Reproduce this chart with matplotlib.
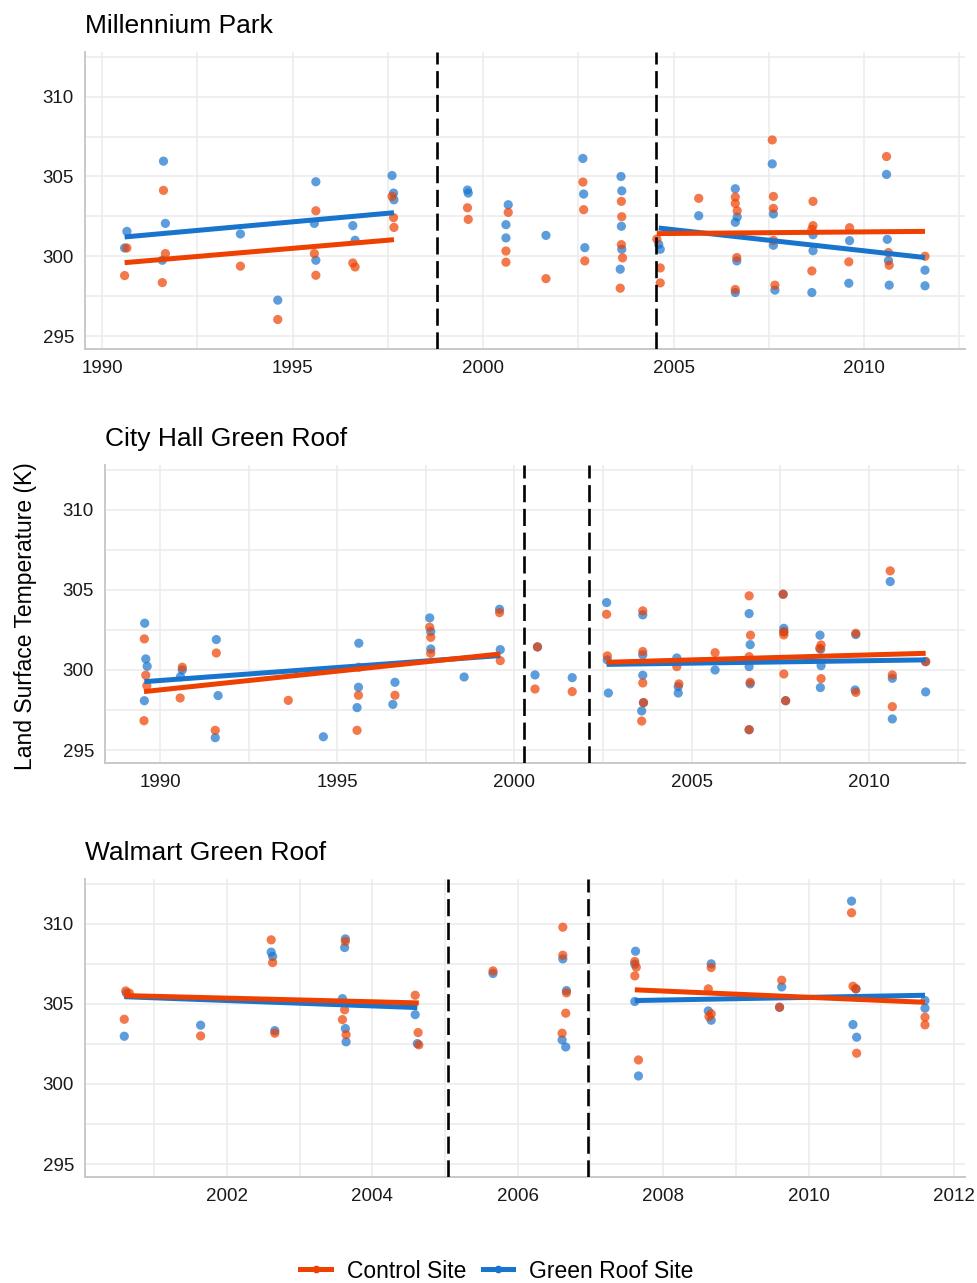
import numpy as np
import matplotlib.pyplot as plt
from matplotlib.lines import Line2D
from matplotlib.ticker import MultipleLocator

plt.rcParams['font.family'] = ['Liberation Sans', 'DejaVu Sans']

# Couleurs des deux sites
col_ctrl = '#EE4000'
col_green = '#1874CD'

# --- Millennium Park ---
mp_x_green = [1990.65, 1990.59, 1991.61, 1991.66, 1991.58, 1993.63, 1994.61, 1995.61, 1995.57, 1995.61,
              1996.58, 1996.64, 1997.61, 1997.65, 1997.66, 1999.59, 1999.61, 2000.66, 2000.60, 2000.60,
              2001.65, 2002.62, 2002.64, 2002.67, 2003.62, 2003.64, 2003.63, 2003.64, 2003.60, 2004.61,
              2004.65, 2005.66, 2006.62, 2006.67, 2006.62, 2006.66, 2006.62, 2007.59, 2007.62, 2007.62,
              2007.66, 2008.66, 2008.66, 2008.63, 2009.62, 2009.60, 2010.59, 2010.61, 2010.64, 2010.66,
              2011.60, 2011.60]
mp_green = [301.56, 300.52, 305.96, 302.06, 299.75, 301.40, 297.25, 304.67, 302.06, 299.75,
            301.92, 301.00, 305.06, 303.96, 303.54, 304.15, 303.96, 303.23, 301.98, 301.15,
            301.31, 306.13, 303.90, 300.54, 305.00, 304.10, 301.88, 300.44, 299.19, 300.75,
            300.44, 302.54, 304.23, 302.46, 302.13, 299.71, 297.73, 305.79, 302.65, 300.69,
            297.88, 301.35, 300.35, 297.73, 300.98, 298.31, 305.13, 301.06, 299.73, 298.19,
            299.13, 298.15]
mp_x_ctrl = [1990.65, 1990.59, 1991.61, 1991.66, 1991.58, 1993.63, 1994.61, 1995.61, 1995.57, 1995.61,
             1996.58, 1996.64, 1997.61, 1997.65, 1997.66, 1999.59, 1999.61, 2000.66, 2000.60, 2000.60,
             2001.65, 2002.62, 2002.64, 2002.67, 2003.63, 2003.64, 2003.63, 2003.66, 2003.60, 2004.56,
             2004.65, 2004.65, 2005.66, 2006.62, 2006.62, 2006.67, 2006.66, 2006.62, 2007.59, 2007.62,
             2007.62, 2007.62, 2007.66, 2008.66, 2008.66, 2008.63, 2008.63, 2009.62, 2009.60, 2010.59,
             2010.64, 2010.66, 2011.60]
mp_ctrl = [300.52, 298.79, 304.13, 300.17, 298.35, 299.38, 296.04, 302.85, 300.17, 298.81,
           299.58, 299.33, 303.75, 302.42, 301.81, 303.04, 302.31, 302.75, 300.33, 299.63,
           298.60, 304.65, 302.92, 299.71, 303.44, 302.48, 300.73, 299.90, 298.00, 301.08,
           299.27, 298.33, 303.63, 303.71, 303.31, 302.85, 299.92, 297.92, 307.29, 303.75,
           303.00, 301.00, 298.19, 303.44, 301.92, 301.69, 299.08, 301.79, 299.65, 306.25,
           300.23, 299.44, 300.00]
mp_build = [1998.78, 2004.53]
# tendances (début, fin) avant / après travaux
mp_trend_ctrl = [(299.60, 301.04), (301.42, 301.56)]
mp_trend_green = [(301.21, 302.73), (301.77, 299.92)]

# --- City Hall Green Roof ---
ch_x_green = [1989.57, 1989.60, 1989.64, 1989.56, 1990.58, 1990.63, 1991.59, 1991.64, 1991.56, 1994.61,
              1995.61, 1995.60, 1995.56, 1996.63, 1996.57, 1997.61, 1997.64, 1997.64, 1998.58, 1999.58,
              1999.60, 2000.58, 2000.65, 2001.63, 2002.60, 2002.62, 2002.65, 2003.62, 2003.62, 2003.62,
              2003.64, 2003.59, 2004.58, 2004.62, 2004.62, 2005.66, 2006.62, 2006.65, 2006.62, 2006.65,
              2006.62, 2007.58, 2007.60, 2007.60, 2007.65, 2008.62, 2008.64, 2008.65, 2008.63, 2009.63,
              2009.61, 2010.60, 2010.66, 2010.66, 2011.60, 2011.60]
ch_green = [302.92, 300.69, 300.23, 298.08, 299.58, 300.00, 301.90, 298.40, 295.77, 295.83,
            301.67, 298.92, 297.65, 299.23, 297.85, 303.25, 302.40, 301.31, 299.56, 303.79,
            301.27, 299.69, 301.44, 299.52, 304.21, 300.63, 298.56, 303.44, 300.94, 299.67,
            297.96, 297.44, 300.75, 298.96, 298.56, 300.00, 303.52, 301.58, 300.21, 299.13,
            296.27, 304.73, 302.60, 302.38, 298.08, 302.17, 301.29, 300.27, 298.90, 302.21,
            298.75, 305.52, 299.48, 296.94, 300.52, 298.63]
ch_x_ctrl = [1989.56, 1989.60, 1989.63, 1989.55, 1990.63, 1990.57, 1991.59, 1991.56, 1993.62, 1995.61,
             1995.60, 1995.56, 1996.63, 1997.61, 1997.64, 1997.64, 1999.58, 1999.60, 2000.65, 2000.58,
             2001.63, 2002.60, 2002.62, 2003.62, 2003.62, 2003.62, 2003.64, 2003.59, 2004.58, 2004.64,
             2005.66, 2006.62, 2006.66, 2006.62, 2006.65, 2006.62, 2007.58, 2007.60, 2007.60, 2007.60,
             2007.65, 2008.61, 2008.65, 2008.65, 2009.63, 2009.63, 2010.60, 2010.66, 2010.66, 2011.60]
ch_ctrl = [301.94, 299.67, 299.02, 296.83, 300.17, 298.25, 301.06, 296.23, 298.10, 300.17,
           298.42, 296.23, 298.42, 302.67, 302.04, 301.04, 303.58, 300.58, 301.44, 298.81,
           298.65, 303.48, 300.88, 303.69, 301.15, 299.19, 297.96, 296.81, 300.21, 299.13,
           301.08, 304.63, 302.17, 300.83, 299.23, 296.27, 304.73, 302.38, 302.19, 299.75,
           298.08, 301.35, 301.56, 299.46, 302.29, 298.60, 306.19, 299.69, 297.71, 300.52]
ch_build = [2000.28, 2002.11]
ch_trend_ctrl = [(298.65, 301.00), (300.48, 301.04)]
ch_trend_green = [(299.27, 300.90), (300.35, 300.63)]

# --- Walmart Green Roof ---
wm_x_green = [2000.62, 2000.59, 2001.64, 2002.61, 2002.63, 2002.66, 2003.63, 2003.62, 2003.59, 2003.63,
              2003.64, 2004.59, 2004.62, 2005.66, 2006.62, 2006.67, 2006.61, 2006.66, 2007.62, 2007.61,
              2007.61, 2007.66, 2008.66, 2008.62, 2008.66, 2009.63, 2009.60, 2010.59, 2010.65, 2010.61,
              2010.66, 2011.60, 2011.60]
wm_green = [305.67, 302.98, 303.67, 308.23, 307.96, 303.33, 309.06, 308.52, 305.33, 303.46,
            302.63, 304.33, 302.52, 306.90, 307.81, 305.83, 302.75, 302.31, 308.29, 307.48,
            305.15, 300.50, 307.50, 304.56, 303.98, 306.06, 304.79, 311.42, 305.94, 303.71,
            302.92, 305.21, 304.73]
wm_x_ctrl = [2000.61, 2000.66, 2000.59, 2001.64, 2002.61, 2002.63, 2002.66, 2003.63, 2003.62, 2003.59,
             2003.64, 2004.59, 2004.63, 2004.64, 2005.66, 2006.62, 2006.62, 2006.67, 2006.66, 2006.61,
             2007.61, 2007.63, 2007.61, 2007.66, 2008.66, 2008.62, 2008.66, 2008.63, 2009.63, 2009.60,
             2010.59, 2010.61, 2010.65, 2010.66, 2011.60, 2011.60]
wm_ctrl = [305.81, 305.67, 304.04, 303.00, 309.00, 307.58, 303.17, 308.90, 304.63, 304.02,
           303.08, 305.54, 303.21, 302.44, 307.06, 309.79, 308.04, 305.69, 304.42, 303.17,
           307.65, 307.29, 306.75, 301.50, 307.27, 305.94, 304.38, 304.21, 306.48, 304.79,
           310.69, 306.10, 305.94, 301.92, 304.17, 303.69]
wm_build = [2005.04, 2006.96]
wm_trend_ctrl = [(305.52, 305.06), (305.88, 305.10)]
wm_trend_green = [(305.45, 304.77), (305.21, 305.54)]

sites = [
    ("Millennium Park", mp_x_ctrl, mp_ctrl, mp_x_green, mp_green, mp_build,
     mp_trend_ctrl, mp_trend_green, (1989.55, 2012.65), 5),
    ("City Hall Green Roof", ch_x_ctrl, ch_ctrl, ch_x_green, ch_green, ch_build,
     ch_trend_ctrl, ch_trend_green, (1988.45, 2012.71), 5),
    ("Walmart Green Roof", wm_x_ctrl, wm_ctrl, wm_x_green, wm_green, wm_build,
     wm_trend_ctrl, wm_trend_green, (2000.05, 2012.15), 2),
]

# positions des panneaux (px de la figure 978x1283)
W, H = 978, 1283
boxes = [(85, 52, 965, 349), (105, 465, 965, 763), (85, 879, 965, 1177)]


# segment de tendance sur une période (de la première à la dernière date)
def trend_line(ax, x, mask, ends, color):
    x = np.asarray(x)[mask]
    ax.plot([x.min(), x.max()], ends, color=color, lw=3.6, solid_capstyle='butt', zorder=4)


fig = plt.figure(figsize=(W / 100, H / 100), dpi=100)

for (title, xc, yc, xg, yg, build, tr_c, tr_g, xlim, step), (l, t, r, b) in zip(sites, boxes):
    ax = fig.add_axes([l / W, 1 - b / H, (r - l) / W, (b - t) / H])
    # le site vert d'abord, le témoin par-dessus (superpositions brunâtres)
    ax.scatter(xg, yg, s=44, color=col_green, alpha=0.7, edgecolors='none', zorder=3)
    ax.scatter(xc, yc, s=44, color=col_ctrl, alpha=0.7, edgecolors='none', zorder=3)

    for x, tr, col in [(xg, tr_g, col_green), (xc, tr_c, col_ctrl)]:
        xa = np.asarray(x)
        trend_line(ax, x, xa < build[0], tr[0], col)
        trend_line(ax, x, xa > build[1], tr[1], col)

    for d in build:
        ax.axvline(d, color='black', lw=1.9, ls=(0, (6.5, 2.5)), zorder=5)

    ax.set_xlim(*xlim)
    ax.set_ylim(294.19, 312.8)
    ax.xaxis.set_major_locator(MultipleLocator(step))
    ax.xaxis.set_minor_locator(MultipleLocator(step / 2))
    ax.yaxis.set_minor_locator(MultipleLocator(2.5))
    ax.set_yticks([295, 300, 305, 310])
    ax.grid(True, which='both', color='#EBEBEB', lw=1.1)
    ax.set_axisbelow(True)
    for s in ['top', 'right']:
        ax.spines[s].set_visible(False)
    for s in ['left', 'bottom']:
        ax.spines[s].set_color('#C8C8C8')
        ax.spines[s].set_linewidth(1.4)
    ax.tick_params(which='both', length=0, labelsize=13.5, labelcolor='#1a1a1a', pad=8)
    ax.set_title(title, loc='left', fontsize=19, pad=13.5, color='black')

fig.text(26 / W, 1 - 616 / H, 'Land Surface Temperature (K)', rotation=90,
         ha='center', va='center', fontsize=16.5)

handles = [Line2D([], [], color=col_ctrl, lw=3.6, marker='o', markersize=4.5),
           Line2D([], [], color=col_green, lw=3.6, marker='o', markersize=4.5)]
fig.legend(handles, ['Control Site', 'Green Roof Site'], loc='center',
           bbox_to_anchor=(497 / W, 1 - 1271 / H), ncol=2, frameon=False,
           fontsize=16.5, handlelength=1.35, handletextpad=0.7, columnspacing=0.7)

fig.savefig('out.png', dpi=100)
